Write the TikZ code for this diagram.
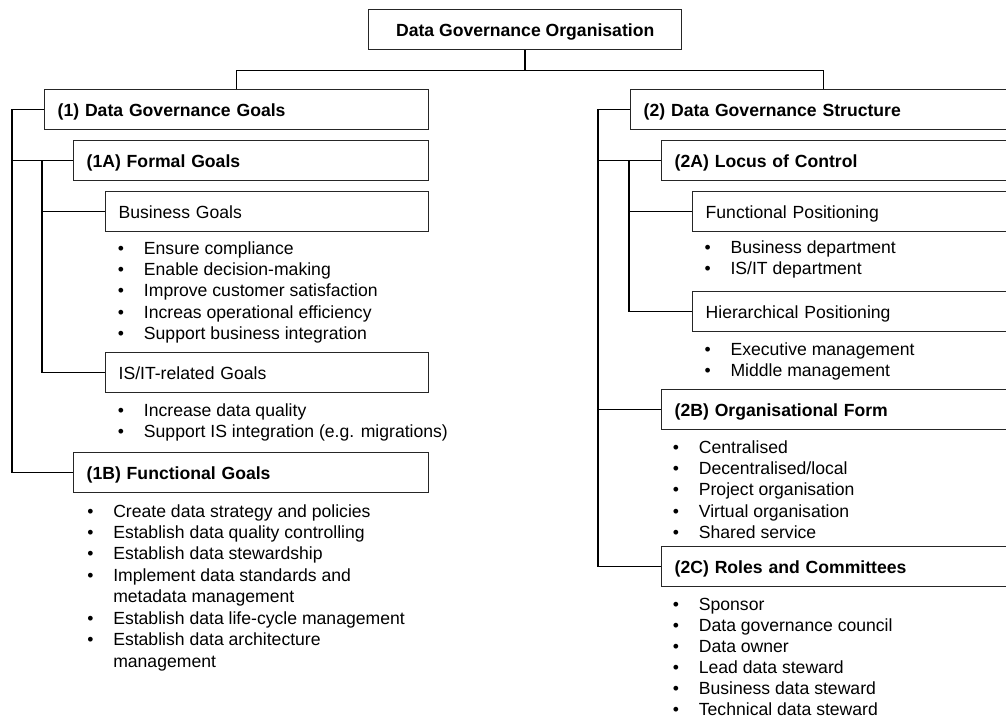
\documentclass[tikz,border=0pt]{standalone}
\usepackage{fontspec}
\setmainfont{Liberation Sans}
\usepackage{array}
\newcommand{\blt}{\textbullet}
\begin{document}
\begin{tikzpicture}[x=0.75pt,y=-0.75pt,
  font=\fontsize{13.2}{16.1}\selectfont,
  box/.style={draw=black!85, line width=1pt, rectangle, anchor=north west,
    minimum height=30pt, inner xsep=9.75pt, inner ysep=0pt, align=left,
    text height=9.5pt, text depth=0pt},
  conn/.style={draw=black, line width=1.1pt},
  blist/.style={anchor=base west, inner sep=0pt}]
\clip (0,0) rectangle (1006,719);

% top
\node[draw=black!85, line width=1pt, rectangle, anchor=north west,
  minimum width=234.75pt, minimum height=30pt, inner sep=0pt,
  text height=9.5pt, text depth=0pt, font=\fontsize{13.2}{16.1}\selectfont\bfseries]
  (top) at (368,9) {Data Governance Organisation};

% left side
\node[box, minimum width=288pt, text width=268.5pt, font=\fontsize{13.2}{16.1}\selectfont\bfseries] (b1) at (44,89) {(1) Data Governance Goals};
\node[box, minimum width=266.25pt, text width=246.75pt, font=\fontsize{13.2}{16.1}\selectfont\bfseries] (b1a) at (73,140) {(1A) Formal Goals};
\node[box, minimum width=242.25pt, text width=222.75pt] (bg) at (105,191) {Business Goals};
\node[box, minimum width=242.25pt, text width=222.75pt] (is) at (105,352) {IS/IT-related Goals};
\node[box, minimum width=266.25pt, text width=246.75pt, font=\fontsize{13.2}{16.1}\selectfont\bfseries] (b1b) at (73,452) {(1B) Functional Goals};

\node[blist] (l1) at (117.7,254) {\begin{tabular}[t]{@{}p{19.5pt}@{}l@{}}
\blt & Ensure compliance\\
\blt & Enable decision-making\\
\blt & Improve customer satisfaction\\
\blt & Increas operational efficiency\\
\blt & Support business integration
\end{tabular}};
\node[blist] (l2) at (117.7,416) {\begin{tabular}[t]{@{}p{19.5pt}@{}l@{}}
\blt & Increase data quality\\
\blt & Support IS integration (e.g. migrations)
\end{tabular}};
\node[blist] (l3) at (87,517) {\begin{tabular}[t]{@{}p{19.5pt}@{}l@{}}
\blt & Create data strategy and policies\\
\blt & Establish data quality controlling\\
\blt & Establish data stewardship\\
\blt & Implement data standards and\\
 & metadata management\\
\blt & Establish data life-cycle management\\
\blt & Establish data architecture\\
 & management
\end{tabular}};

% right side
\node[box, minimum width=289.5pt, text width=270pt, font=\fontsize{13.2}{16.1}\selectfont\bfseries] (b2) at (630,89) {(2) Data Governance Structure};
\node[box, minimum width=266.25pt, text width=246.75pt, font=\fontsize{13.2}{16.1}\selectfont\bfseries] (b2a) at (661,140) {(2A) Locus of Control};
\node[box, minimum width=243pt, text width=223.5pt] (fp) at (692,191) {Functional Positioning};
\node[box, minimum width=243pt, text width=223.5pt] (hp) at (692,291) {Hierarchical Positioning};
\node[box, minimum width=266.25pt, text width=246.75pt, font=\fontsize{13.2}{16.1}\selectfont\bfseries] (b2b) at (661,389) {(2B) Organisational Form};
\node[box, minimum width=266.25pt, text width=246.75pt, font=\fontsize{13.2}{16.1}\selectfont\bfseries] (b2c) at (661,546) {(2C) Roles and Committees};

\node[blist] (r1) at (704.3,253) {\begin{tabular}[t]{@{}p{19.5pt}@{}l@{}}
\blt & Business department\\
\blt & IS/IT department
\end{tabular}};
\node[blist] (r2) at (704.3,355) {\begin{tabular}[t]{@{}p{19.5pt}@{}l@{}}
\blt & Executive management\\
\blt & Middle management
\end{tabular}};
\node[blist] (r3) at (672.6,453) {\begin{tabular}[t]{@{}p{19.5pt}@{}l@{}}
\blt & Centralised\\
\blt & Decentralised/local\\
\blt & Project organisation\\
\blt & Virtual organisation\\
\blt & Shared service
\end{tabular}};
\node[blist, font=\fontsize{13.2}{15.85}\selectfont] (r4) at (672.6,610) {\begin{tabular}[t]{@{}p{19.5pt}@{}l@{}}
\blt & Sponsor\\
\blt & Data governance council\\
\blt & Data owner\\
\blt & Lead data steward\\
\blt & Business data steward\\
\blt & Technical data steward
\end{tabular}};

% connectors
\draw[conn] (top.south) -- ++(0,20) coordinate (tj);
\draw[conn] (b1.north) |- (tj) -| (b2.north);

\coordinate (lx) at (12,0);
\coordinate (sx) at (42,0);
\draw[conn] (b1.west) -| (lx |- b1b.west) -- (b1b.west);
\draw[conn] (lx |- b1a.west) -- (b1a.west);
\draw[conn] (b1a.west) -| (sx |- is.west) -- (is.west);
\draw[conn] (sx |- bg.west) -- (bg.west);

\coordinate (rx) at (598,0);
\coordinate (rsx) at (629,0);
\draw[conn] (b2.west) -| (rx |- b2c.west) -- (b2c.west);
\draw[conn] (rx |- b2a.west) -- (b2a.west);
\draw[conn] (rx |- b2b.west) -- (b2b.west);
\draw[conn] (b2a.west) -| (rsx |- hp.west) -- (hp.west);
\draw[conn] (rsx |- fp.west) -- (fp.west);
\end{tikzpicture}
\end{document}
